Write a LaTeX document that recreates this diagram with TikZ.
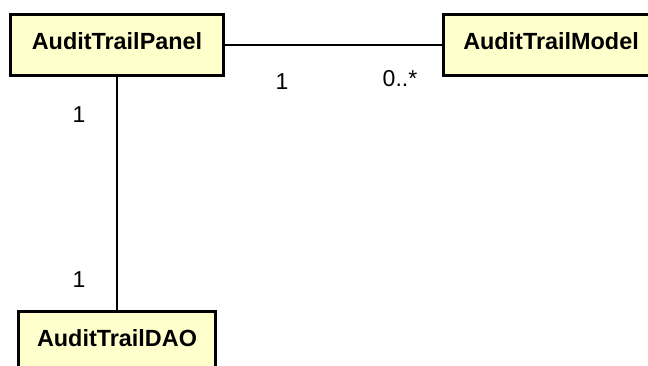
\documentclass[tikz,border=0pt]{standalone}
\usepackage{fontspec}
\setmainfont{Liberation Sans}
\definecolor{clsfill}{RGB}{255,255,204}

\begin{document}
\begin{tikzpicture}[x=1pt,y=-1pt,
        cls/.style={draw,line width=3pt,fill=clsfill,inner sep=0pt,minimum height=61pt,
            text height=16.8pt,text depth=7.6pt,font=\fontsize{23.4}{28}\selectfont\bfseries},
        mult/.style={inner sep=0pt,font=\fontsize{23}{28}\selectfont},
        assoc/.style={line width=1.3pt}]
        \useasboundingbox (0,0) rectangle (648,365);
        \clip (0,0) rectangle (648,365);
        \node[cls,minimum width=213pt] (P) at (117,45) {AuditTrailPanel};
        \node[cls,minimum width=216pt] (M) at (551,45) {AuditTrailModel};
        \node[cls,minimum width=197pt] (D) at (117,342) {AuditTrailDAO};
        \draw[assoc] (P.east)--(M.west);
        \draw[assoc] (P.south)--(D.north);
        \node[mult] (mPM) at (282,82) {1};
        \node[mult] (mMP) at (400,79) {0..*};
        \node[mult] (mPD) at (79,115) {1};
        \node[mult] (mDP) at (79,280) {1};
    \end{tikzpicture}
\end{document}
